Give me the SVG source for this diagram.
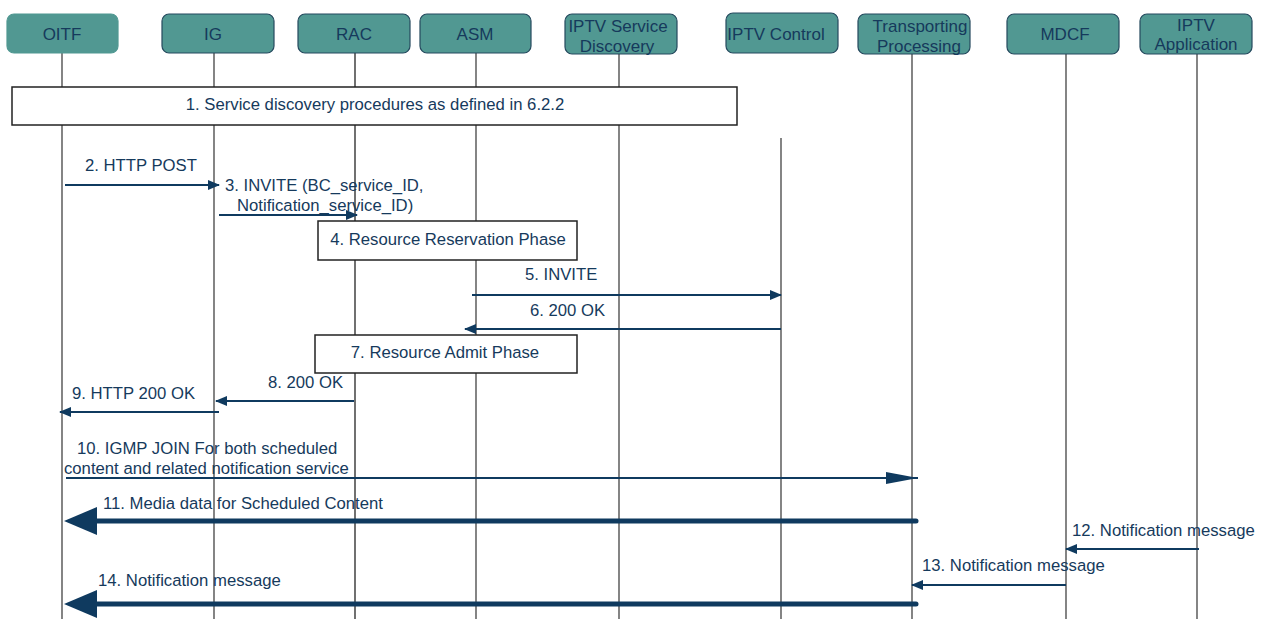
<svg xmlns="http://www.w3.org/2000/svg" width="1264" height="619" viewBox="0 0 1264 619">
<defs>
<style>
.node rect{fill:#519892;stroke:#25495e;stroke-width:1.2}
.nt{font-family:"Liberation Sans",Arial,sans-serif;font-size:17px;fill:#163a5c;text-anchor:middle}
.bt{font-family:"Liberation Sans",Arial,sans-serif;font-size:16.7px;fill:#163a5c;text-anchor:middle}
.lt{font-family:"Liberation Sans",Arial,sans-serif;font-size:16.7px;fill:#163a5c}
.life{stroke:#333;stroke-width:1.2;fill:none}
.box rect{fill:#fff;stroke:#222;stroke-width:1.5}
.msg{stroke:#0f3a5f;stroke-width:2;fill:none}
.thick{stroke:#0f3a5f;stroke-width:5;fill:none;stroke-linecap:round}
.ah{fill:#0f3a5f}
</style>
<marker id="a" viewBox="0 0 12 10" refX="11" refY="5" markerWidth="12" markerHeight="10" markerUnits="userSpaceOnUse" orient="auto"><path d="M0,0 L12,5 L0,10 z" class="ah"/></marker>
</defs>
<rect width="1264" height="619" fill="#fff"/>
<g id="lifelines">
<line class="life" x1="62" y1="53" x2="62" y2="619" stroke="#555"/>
<line class="life" x1="214" y1="53" x2="214" y2="619" stroke="#555"/>
<line class="life" x1="355" y1="42" x2="355" y2="619" style="stroke:#111"/>
<line class="life" x1="476" y1="53" x2="476" y2="619"/>
<line class="life" x1="619" y1="54" x2="619" y2="619"/>
<line class="life" x1="781" y1="138" x2="781" y2="619"/>
<line class="life" x1="912" y1="54" x2="912" y2="619"/>
<line class="life" x1="1066" y1="54" x2="1066" y2="619"/>
<line class="life" x1="1197" y1="54" x2="1197" y2="619"/>
</g>
<g id="n-oitf" class="node"><rect x="7" y="14" width="111" height="39" rx="7" style="stroke:#519892"/><text class="nt" x="62" y="40">OITF</text></g>
<g id="n-ig" class="node"><rect x="162" y="14" width="112" height="39" rx="7"/><text class="nt" x="213" y="40">IG</text></g>
<g id="n-rac" class="node"><rect x="298" y="14" width="112" height="39" rx="7"/><text class="nt" x="354" y="40">RAC</text></g>
<g id="n-asm" class="node"><rect x="420" y="14" width="111" height="39" rx="7"/><text class="nt" x="475" y="40">ASM</text></g>
<g id="n-isd" class="node"><rect x="565" y="14" width="112" height="40" rx="7"/><text class="nt" x="618" y="32">IPTV Service</text><text class="nt" x="617" y="52">Discovery</text></g>
<g id="n-ctl" class="node"><rect x="726" y="13" width="112" height="40" rx="7"/><text class="nt" x="776" y="40">IPTV Control</text></g>
<g id="n-tp" class="node"><rect x="858" y="14" width="112" height="40" rx="7"/><text class="nt" x="920" y="32">Transporting</text><text class="nt" x="919" y="52">Processing</text></g>
<g id="n-mdcf" class="node"><rect x="1007" y="14" width="112" height="40" rx="7"/><text class="nt" x="1065" y="40">MDCF</text></g>
<g id="n-app" class="node"><rect x="1140" y="14" width="112" height="40" rx="7"/><text class="nt" x="1196" y="31">IPTV</text><text class="nt" x="1196" y="50">Application</text></g>
<g id="box1" class="box"><rect x="12" y="87" width="725" height="38"/><text class="bt" x="375" y="110">1. Service discovery procedures as defined in 6.2.2</text></g>
<g id="box4" class="box"><rect x="318" y="221" width="259" height="39"/><text class="bt" x="448" y="245">4. Resource Reservation Phase</text></g>
<g id="box7" class="box"><rect x="315" y="335" width="262" height="38"/><text class="bt" x="445" y="358">7. Resource Admit Phase</text></g>
<g id="connectors">
<line class="msg" x1="65" y1="185" x2="219" y2="185" marker-end="url(#a)"/>
<line class="msg" x1="219" y1="215" x2="357" y2="215" marker-end="url(#a)"/>
<line class="msg" x1="472" y1="295" x2="781" y2="295" marker-end="url(#a)"/>
<line class="msg" x1="781" y1="329" x2="465" y2="329" marker-end="url(#a)"/>
<line class="msg" x1="354" y1="401" x2="216" y2="401" marker-end="url(#a)"/>
<line class="msg" x1="219" y1="412" x2="60" y2="412" marker-end="url(#a)"/>
<line class="msg" x1="66" y1="478" x2="918" y2="478" stroke-width="1.6"/>
<path class="ah" d="M918,478 L886,472 L886,484 z"/>
<line class="thick" x1="96" y1="521" x2="916" y2="521"/>
<path class="ah" d="M64,521 L97,507 L97,535 z"/>
<line class="msg" x1="1199" y1="549" x2="1066" y2="549" marker-end="url(#a)"/>
<line class="msg" x1="1066" y1="585" x2="912" y2="585" marker-end="url(#a)"/>
<line class="thick" x1="96" y1="604" x2="916" y2="604"/>
<path class="ah" d="M64,604 L97,590 L97,618 z"/>
</g>
<g id="labels">
<text class="lt" x="85" y="171">2. HTTP POST</text>
<text class="lt" x="225" y="191">3. INVITE (BC_service_ID,</text>
<text class="lt" x="237" y="211">Notification_service_ID)</text>
<text class="lt" x="525" y="280">5. INVITE</text>
<text class="lt" x="530" y="316">6. 200 OK</text>
<text class="lt" x="268" y="388">8. 200 OK</text>
<text class="lt" x="72" y="399">9. HTTP 200 OK</text>
<text class="lt" x="77" y="454">10. IGMP JOIN For both scheduled</text>
<text class="lt" x="64" y="474">content and related notification service</text>
<text class="lt" x="103" y="509">11. Media data for Scheduled Content</text>
<text class="lt" x="1072" y="536">12. Notification message</text>
<text class="lt" x="922" y="571">13. Notification message</text>
<text class="lt" x="98" y="586">14. Notification message</text>
</g>
</svg>
